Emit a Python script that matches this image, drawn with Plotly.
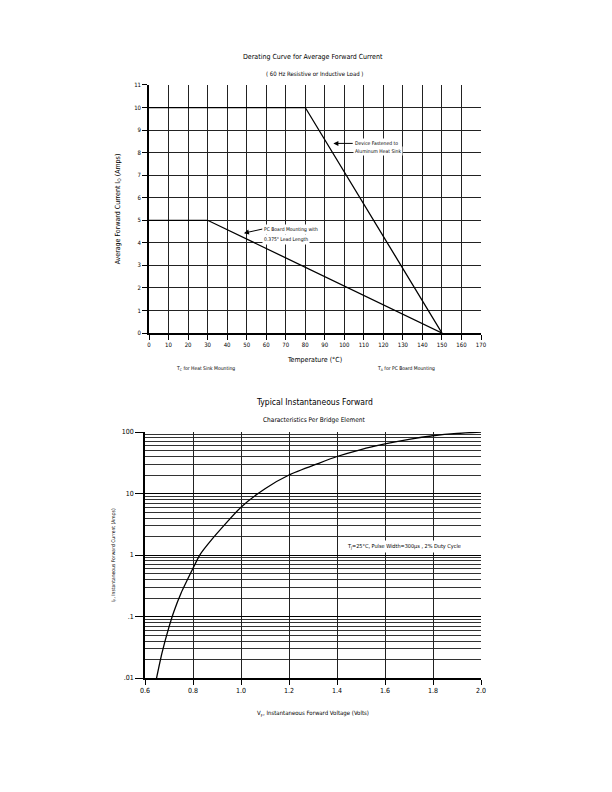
import plotly.graph_objects as go

FONT = "Liberation Sans Narrow, DejaVu Sans Condensed, Arial Narrow, sans-serif"

# ---- Top chart data: derating curves ----
heat_sink_temp = [0, 80, 150]
heat_sink_current = [10, 10, 0]
pcb_temp = [0, 30, 150]
pcb_current = [5, 5, 0]
top_x_ticks = list(range(0, 171, 10))
top_y_ticks = list(range(0, 12))

# ---- Bottom chart data: forward characteristics ----
vf_volts = [0.648, 0.67, 0.70, 0.72, 0.75, 0.80, 0.828, 0.876, 1.00, 1.10, 1.20,
            1.324, 1.40, 1.50, 1.60, 1.70, 1.80, 1.90, 2.00]
if_amps = [0.01, 0.025, 0.068, 0.12, 0.24, 0.61, 1.0, 1.75, 6.0, 12.0, 20.0,
           31.0, 40.0, 52.0, 64.0, 76.0, 87.0, 95.0, 100.0]
bot_x_ticks = [0.6, 0.8, 1.0, 1.2, 1.4, 1.6, 1.8, 2.0]
bot_y_ticks = [0.01, 0.1, 1, 10, 100]
bot_y_labels = [".01", ".1", "1", "10", "100"]
bot_y_minor = [m * 10 ** e for e in range(-2, 2) for m in range(2, 10)]

fig = go.Figure()

fig.add_trace(go.Scatter(x=heat_sink_temp, y=heat_sink_current, mode="lines",
                         line=dict(color="black", width=1.3), xaxis="x", yaxis="y",
                         showlegend=False, hoverinfo="skip"))
fig.add_trace(go.Scatter(x=pcb_temp, y=pcb_current, mode="lines",
                         line=dict(color="black", width=1.3), xaxis="x", yaxis="y",
                         showlegend=False, hoverinfo="skip"))
fig.add_trace(go.Scatter(x=vf_volts, y=if_amps, mode="lines",
                         line=dict(color="black", width=1.3, shape="spline", smoothing=0.6),
                         xaxis="x2", yaxis="y2", showlegend=False, hoverinfo="skip"))

top_tick_font = dict(family=FONT, size=6, color="black")
bot_tick_font = dict(family=FONT, size=7, color="black")

fig.update_layout(
    width=612, height=792,
    margin=dict(l=0, r=0, t=0, b=0),
    paper_bgcolor="white", plot_bgcolor="white",
    font=dict(family=FONT, color="black"),
    xaxis=dict(domain=[0.2304, 0.7729], anchor="y", range=[0, 170],
               tickvals=top_x_ticks, ticks="outside", ticklen=5, tickcolor="black",
               showgrid=True, gridcolor="#222", gridwidth=1,
               showline=True, linecolor="black", linewidth=1.5,
               zeroline=False, tickfont=top_tick_font, automargin=False,
               title=dict(text="Temperature (°C)", standoff=10,
                          font=dict(family=FONT, size=7, color="black"))),
    yaxis=dict(domain=[0.5896, 0.9028], anchor="x", range=[0, 11],
               tickvals=top_y_ticks, ticks="outside", ticklen=5, tickcolor="black",
               showgrid=True, gridcolor="#222", gridwidth=1,
               showline=True, linecolor="black", linewidth=1.5,
               zeroline=False, tickfont=top_tick_font, automargin=False,
               title=dict(text="Average Forward Current I<sub>O</sub> (Amps)", standoff=13,
                          font=dict(family=FONT, size=7, color="black"))),
    xaxis2=dict(domain=[0.2239, 0.7729], anchor="y2", range=[0.6, 2.0],
                tickvals=bot_x_ticks, tickformat=".1f", ticks="outside", ticklen=5,
                tickcolor="black", showgrid=True, gridcolor="#222", gridwidth=1,
                showline=True, linecolor="black", linewidth=1.5,
                zeroline=False, tickfont=bot_tick_font, automargin=False,
                title=dict(text="V<sub>F</sub>, Instantaneous Forward Voltage (Volts)",
                           standoff=17, font=dict(family=FONT, size=6, color="black"))),
    yaxis2=dict(domain=[0.1540, 0.4646], anchor="x2", type="log", range=[-2, 2],
                tickvals=bot_y_ticks, ticktext=bot_y_labels, ticks="outside", ticklen=8,
                tickcolor="black", showgrid=True, gridcolor="black", gridwidth=1.3,
                minor=dict(tickvals=bot_y_minor, showgrid=True, gridcolor="#333",
                           gridwidth=0.9, ticks=""),
                showline=True, linecolor="black", linewidth=1.5,
                zeroline=False, tickfont=bot_tick_font, automargin=False,
                title=dict(text="I<sub>F</sub>, Instantaneous Forward Current (Amps)",
                           standoff=6, font=dict(family=FONT, size=5, color="black"))),
)

def paper_text(text, x, y, size):
    fig.add_annotation(text=text, x=x, y=y, xref="paper", yref="paper",
                       showarrow=False,
                       font=dict(family=FONT, size=size, color="black"),
                       xanchor="center", yanchor="middle")

paper_text("Derating Curve for Average Forward Current", 0.4984, 0.9381, 7)
paper_text("( 60 Hz Resistive or Inductive Load )", 0.5000, 0.9167, 6)
paper_text("T<sub>C</sub> for Heat Sink Mounting", 0.3235, 0.5442, 5)
paper_text("T<sub>A</sub> for PC Board Mounting", 0.6503, 0.5442, 5)

paper_text("Typical Instantaneous Forward", 0.5016, 0.5025, 8.5)
paper_text("Characteristics Per Bridge Element", 0.5000, 0.4798, 6.5)

callout_font = dict(family=FONT, size=5, color="black")

# top chart callouts
fig.add_annotation(x=94.4, y=8.41, ax=104.3, ay=8.41, xref="x", yref="y",
                   axref="x", ayref="y", text="Device Fastened to", showarrow=True,
                   xanchor="left", yanchor="middle", bgcolor="white", borderpad=1,
                   arrowhead=2, arrowsize=1, arrowwidth=1, arrowcolor="black",
                   font=callout_font)
fig.add_annotation(x=104.3, y=8.08, xref="x", yref="y", showarrow=False,
                   text="Aluminum Heat Sink", xanchor="left", yanchor="middle",
                   bgcolor="white", borderpad=1, font=callout_font)

fig.add_annotation(x=48.6, y=4.43, ax=58.0, ay=4.61, xref="x", yref="y",
                   axref="x", ayref="y", text="PC Board Mounting with", showarrow=True,
                   xanchor="left", yanchor="middle", bgcolor="white", borderpad=1,
                   arrowhead=2, arrowsize=1, arrowwidth=1, arrowcolor="black",
                   font=callout_font)
fig.add_annotation(x=58.0, y=4.13, xref="x", yref="y", showarrow=False,
                   text="0.375\" Lead Length", xanchor="left", yanchor="middle",
                   bgcolor="white", borderpad=1, font=callout_font)

# bottom chart note
fig.add_annotation(x=1.679, y=0.146, xref="x2", yref="y2", showarrow=False,
                   text="T<sub>J</sub>=25°C, Pulse Width=300μs , 2% Duty Cycle",
                   bgcolor="white", borderpad=2,
                   font=dict(family=FONT, size=5.5, color="black"))

fig.write_html("out.html")
